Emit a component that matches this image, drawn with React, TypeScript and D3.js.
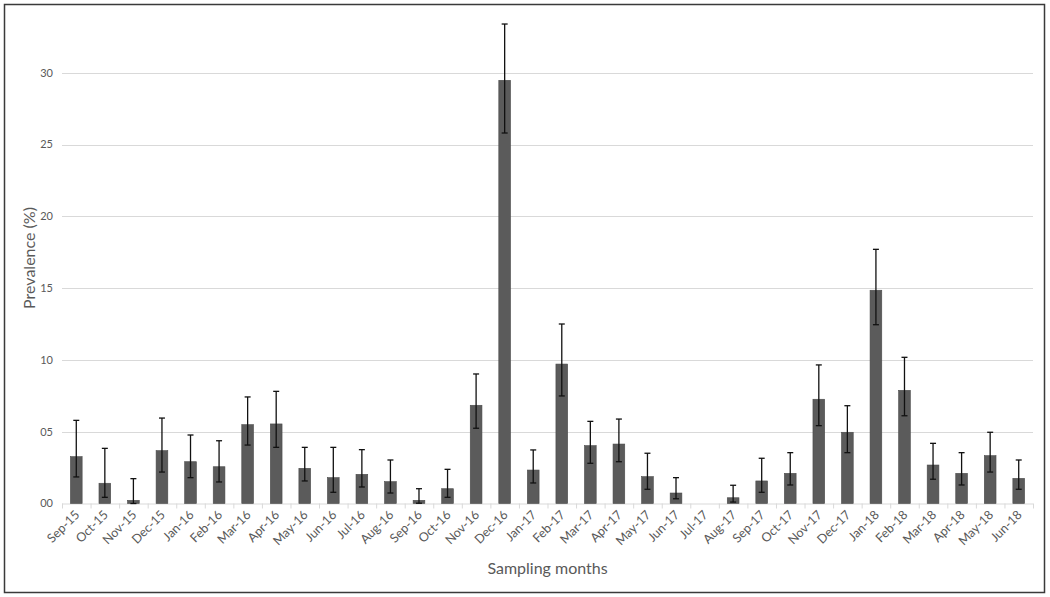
import { useEffect, useRef } from "react";
import * as d3 from "d3";

// sampling months and prevalence (%) with lower / upper error bounds
const months = [
  "Sep-15", "Oct-15", "Nov-15", "Dec-15",
  "Jan-16", "Feb-16", "Mar-16", "Apr-16", "May-16", "Jun-16",
  "Jul-16", "Aug-16", "Sep-16", "Oct-16", "Nov-16", "Dec-16",
  "Jan-17", "Feb-17", "Mar-17", "Apr-17", "May-17", "Jun-17",
  "Jul-17", "Aug-17", "Sep-17", "Oct-17", "Nov-17", "Dec-17",
  "Jan-18", "Feb-18", "Mar-18", "Apr-18", "May-18", "Jun-18",
];
const prevalence = [
  3.26, 1.41, 0.22, 3.68, 2.91, 2.56, 5.49, 5.54, 2.45, 1.8,
  2.03, 1.52, 0.22, 1.03, 6.84, 29.47, 2.33, 9.71, 4.03, 4.14,
  1.87, 0.73, 0, 0.4, 1.57, 2.1, 7.26, 4.96, 14.85, 7.88,
  2.68, 2.1, 3.33, 1.75,
];
const lower = [
  1.85, 0.43, 0.0, 2.19, 1.8, 1.5, 4.07, 3.91, 1.57, 0.78,
  1.15, 0.73, 0.02, 0.43, 5.24, 25.8, 1.43, 7.49, 2.8, 2.91,
  0.99, 0.33, 0, 0.1, 0.78, 1.29, 5.42, 3.54, 12.45, 6.11,
  1.69, 1.29, 2.19, 0.99,
];
const upper = [
  5.79, 3.84, 1.73, 5.95, 4.77, 4.37, 7.42, 7.81, 3.91, 3.91,
  3.75, 3.03, 1.03, 2.38, 9.02, 33.39, 3.73, 12.5, 5.72, 5.88,
  3.5, 1.8, 0, 1.27, 3.15, 3.54, 9.65, 6.81, 17.7, 10.18,
  4.19, 3.54, 4.96, 3.03,
];
const yTicks = [0, 5, 10, 15, 20, 25, 30];
const yTickLabels = ["00", "05", "10", "15", "20", "25", "30"];

export default function App() {
  const ref = useRef<SVGSVGElement | null>(null);

  useEffect(() => {
    const W = 1050;
    const margin = { right: 17, left: 62 };
    const plotBottom = 503.5;
    const plotRight = W - margin.right;
    const font = "Lato, 'Open Sans', sans-serif";
    const grey = "#595959";

    const svg = d3.select(ref.current);
    svg.selectAll("*").remove();

    // outer frame
    svg.append("rect")
      .attr("x", 4.5).attr("y", 4.5)
      .attr("width", 1040).attr("height", 588)
      .attr("fill", "#fff")
      .attr("stroke", "#3a3a3a")
      .attr("stroke-width", 1.5);

    const x = d3.scaleBand<string>()
      .domain(months)
      .range([margin.left, plotRight])
      .paddingInner(0.59)
      .paddingOuter(0.295);

    const y = d3.scaleLinear().domain([0, 5]).range([plotBottom, plotBottom - 71.8]);

    // gridlines
    svg.append("g")
      .selectAll("line")
      .data(yTicks.slice(1))
      .join("line")
      .attr("x1", margin.left).attr("x2", plotRight)
      .attr("y1", (d) => Math.round(y(d)) + 0.5)
      .attr("y2", (d) => Math.round(y(d)) + 0.5)
      .attr("stroke", "#d9d9d9")
      .attr("stroke-width", 1);

    // y tick labels
    svg.append("g")
      .selectAll("text")
      .data(yTicks)
      .join("text")
      .attr("x", 53)
      .attr("y", (d) => y(d))
      .attr("dy", "0.35em")
      .attr("text-anchor", "end")
      .attr("font-family", font)
      .attr("font-size", 11)
      .attr("fill", grey)
      .text((d, i) => yTickLabels[i]);

    // x axis line with ticks at category boundaries
    const step = x.step();
    const xAxis = svg.append("g");
    xAxis.append("line")
      .attr("x1", margin.left).attr("x2", plotRight)
      .attr("y1", plotBottom + 0.5).attr("y2", plotBottom + 0.5)
      .attr("stroke", "#d9d9d9");
    xAxis.selectAll("line.tick")
      .data(d3.range(months.length + 1))
      .join("line")
      .attr("class", "tick")
      .attr("x1", (i) => margin.left + i * step + 0.5)
      .attr("x2", (i) => margin.left + i * step + 0.5)
      .attr("y1", plotBottom)
      .attr("y2", plotBottom + 5)
      .attr("stroke", "#d9d9d9");

    // bars
    svg.append("g")
      .selectAll("rect")
      .data(months)
      .join("rect")
      .attr("x", (d) => x(d)!)
      .attr("y", (d, i) => y(prevalence[i]))
      .attr("width", x.bandwidth())
      .attr("height", (d, i) => plotBottom - y(prevalence[i]))
      .attr("fill", "#5b5b5b")
      .attr("stroke", "#4a4a4a")
      .attr("stroke-width", 0.6);

    // error bars
    const err = svg.append("g").attr("stroke", "#111").attr("stroke-width", 1.3);
    months.forEach((m, i) => {
      if (upper[i] <= 0) return;
      const cx = x(m)! + x.bandwidth() / 2;
      err.append("line")
        .attr("x1", cx).attr("x2", cx)
        .attr("y1", y(upper[i])).attr("y2", y(lower[i]));
      [upper[i], lower[i]].forEach((v) => {
        err.append("line")
          .attr("x1", cx - 3).attr("x2", cx + 3)
          .attr("y1", y(v)).attr("y2", y(v));
      });
    });

    // x tick labels
    svg.append("g")
      .selectAll("text")
      .data(months)
      .join("text")
      .attr("transform", (d) => {
        const cx = x(d)! + x.bandwidth() / 2 + 4;
        return `translate(${cx},${plotBottom + 12}) rotate(-45)`;
      })
      .attr("text-anchor", "end")
      .attr("font-family", font)
      .attr("font-size", 12.5)
      .attr("fill", grey)
      .text((d) => d);

    // axis titles
    svg.append("text")
      .attr("x", (margin.left + plotRight) / 2)
      .attr("y", 574)
      .attr("text-anchor", "middle")
      .attr("font-family", font)
      .attr("font-size", 16)
      .attr("fill", grey)
      .text("Sampling months");

    svg.append("text")
      .attr("transform", `translate(35,258) rotate(-90)`)
      .attr("text-anchor", "middle")
      .attr("font-family", font)
      .attr("font-size", 16)
      .attr("fill", grey)
      .text("Prevalence (%)");
  }, []);

  return (
    <svg
      ref={ref}
      width={1050}
      height={597}
      style={{ position: "absolute", left: 0, top: 0, background: "#fff" }}
    />
  );
}
